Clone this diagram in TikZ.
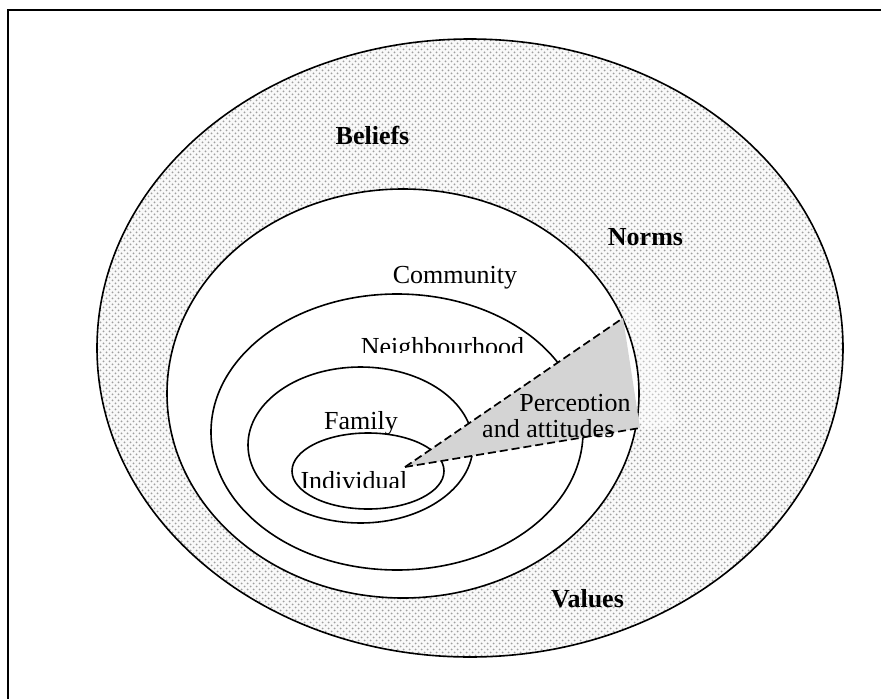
\documentclass[tikz,border=0pt]{standalone}
\usepackage{fontspec}
\setmainfont{Liberation Serif}
\usetikzlibrary{patterns}
% fine dot screen for the outer ring
\pgfdeclarepatternformonly{ringdots}{\pgfqpoint{-1pt}{-1pt}}{\pgfqpoint{7pt}{7pt}}{\pgfqpoint{6pt}{6pt}}{%
  \pgfpathcircle{\pgfqpoint{1.5pt}{1.5pt}}{1pt}\pgfusepath{fill}%
  \pgfpathcircle{\pgfqpoint{4.5pt}{4.5pt}}{1pt}\pgfusepath{fill}}
\begin{document}
\begin{tikzpicture}[x=1pt,y=-1pt,
  ring/.style={draw=black,line width=1.6pt},
  txt/.style={inner sep=0pt,anchor=base,font=\fontsize{26}{30}\selectfont},
  boldtxt/.style={txt,font=\fontsize{26}{30}\selectfont\bfseries},
  wedgeedge/.style={draw=black,line width=1.7pt,dash pattern=on 8pt off 4pt}]
\useasboundingbox (0,0) rectangle (881,699);
\fill[white] (0,0) rectangle (881,699);
% frame
\draw[line width=2pt] (8,699) -- (8,10) -- (881,10);

% outer ring: beliefs, norms, values
\fill[gray!5] (470,348) ellipse [x radius=373pt, y radius=309pt];
\fill[pattern=ringdots, pattern color=gray!75] (470,348) ellipse [x radius=373pt, y radius=309pt];
\fill[white,opacity=0.35,rounded corners=8pt] (624,306) -- (648,300) -- (678,425) -- (641,430) -- cycle;
\draw[ring] (470,348) ellipse [x radius=373pt, y radius=309pt];

% community
\fill[white] (403,393.5) ellipse [x radius=236pt, y radius=204.5pt];
\draw[ring] (403,393.5) ellipse [x radius=236pt, y radius=204.5pt];
% neighbourhood
\draw[ring] (397,432) ellipse [x radius=186pt, y radius=138pt];
% family
\draw[ring] (360.5,445) ellipse [x radius=112.5pt, y radius=78pt];
% individual
\draw[ring] (368,471) ellipse [x radius=76pt, y radius=38pt];

% perception wedge
\coordinate (apex) at (405,467);
\coordinate (wtop) at (623,318);
\coordinate (wbot) at (640,428);
\fill[gray!34] (apex) -- (wtop) -- (wbot) -- cycle;
\draw[wedgeedge] (apex) -- (wtop);
\draw[wedgeedge] (apex) -- (wbot);

% labels
\node[boldtxt] (beliefs) at (372.5,144) {Beliefs};
\node[boldtxt] (norms) at (645.5,245) {Norms};
\node[boldtxt] (values) at (587.5,607) {Values};
\node[txt] (community) at (455,283) {Community};
\begin{scope}
  \clip (300,300) rectangle (600,352);
  \node[txt] (neighbourhood) at (442.5,355) {Neighbourhood};
\end{scope}
\node[txt] (family) at (361,429) {Family};
\begin{scope}
  \clip (280,440) rectangle (430,487.5);
  \node[txt] (individual) at (354,489) {Individual};
\end{scope}
\begin{scope}
  \clip (500,380) rectangle (650,410.5);
  \node[txt] (perception) at (575,411) {Perception};
\end{scope}
\node[txt] (attitudes) at (548.3,437) {and attitudes};
\end{tikzpicture}
\end{document}
